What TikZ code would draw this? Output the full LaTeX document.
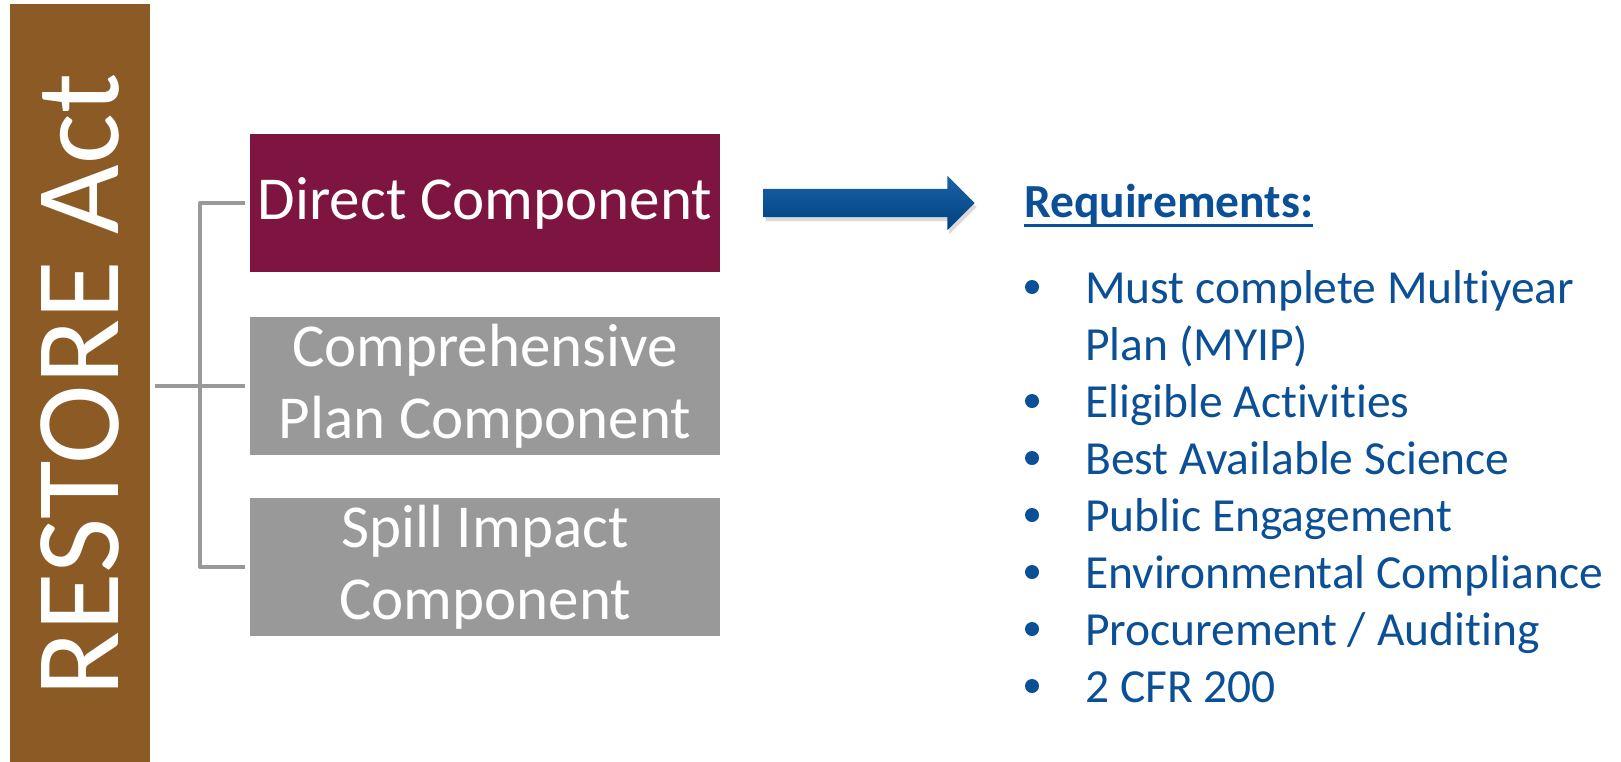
\documentclass[tikz,border=0pt]{standalone}
\usepackage{fontspec}
\setmainfont{Carlito}[Ligatures=NoCommon]
\usetikzlibrary{shapes.arrows,shadows}
\definecolor{actbrown}{HTML}{8B5A25}
\definecolor{directred}{HTML}{7E1541}
\definecolor{compgray}{HTML}{999999}
\definecolor{reqblue}{HTML}{0B4F96}
\definecolor{arrowblue}{HTML}{00519E}

\begin{document}
\begin{tikzpicture}[x=1pt, y=-1pt,
    comp/.style={minimum width=470, minimum height=138, inner sep=0pt, text=white, align=center, font=\fontsize{61}{72}\selectfont},
    branch/.style={line width=4pt, draw=compgray, line join=round},
    req/.style={anchor=base west, inner sep=0pt, text=reqblue, font=\fontsize{47.5}{57}\selectfont},
    dot/.style={circle, fill=reqblue, inner sep=0pt, minimum size=14}]
    \useasboundingbox (0,0) rectangle (1621,761);
    \node[fill=actbrown, minimum width=762, minimum height=140, inner sep=0pt, rotate=90, text=white, font=\fontsize{120}{120}\selectfont] (act) at (80,385) {RESTORE Act};
    \node[comp, fill=directred] (direct) at (485,203) {Direct Component};
    \node[comp, fill=compgray] (plan) at (485,386) {Comprehensive\\Plan Component};
    \node[comp, fill=compgray] (spill) at (485,567) {Spill Impact\\Component};
    \coordinate (root) at (155,386);
    \coordinate (trunk) at (200,386);
    \draw[branch] (root) -- ([xshift=-5pt]plan.west);
    \draw[branch] ([xshift=-5pt]direct.west) -- (direct.west -| trunk) -- (spill.west -| trunk) -- ([xshift=-5pt]spill.west);
    \node[single arrow, minimum height=211, single arrow head extend=13, inner xsep=0pt, inner ysep=14pt, draw=none, top color=arrowblue!90!white, bottom color=arrowblue!80!black, drop shadow={opacity=0.3, shadow xshift=2pt, shadow yshift=-4pt}] (go) at (862,203) {};
    \node[req, font=\bfseries\fontsize{47.5}{57}\selectfont] (head) at (1024,217) {Requirements:};
    \draw[reqblue, line width=3pt] ([yshift=-8pt]head.base west) -- ([yshift=-8pt]head.base east);
    \foreach \txt [count=\i] in {Must complete Multiyear, Plan (MYIP), Eligible Activities, Best Available Science, Public Engagement, Environmental Compliance, Procurement / Auditing, 2 CFR 200}
        \node[req] (line\i) at (1085,246+57*\i) {\txt};
    \foreach \i in {1,3,4,5,6,7,8}
        \node[dot] (dot\i) at ([xshift=-53pt, yshift=16pt]line\i.base west) {};
\end{tikzpicture}
\end{document}
